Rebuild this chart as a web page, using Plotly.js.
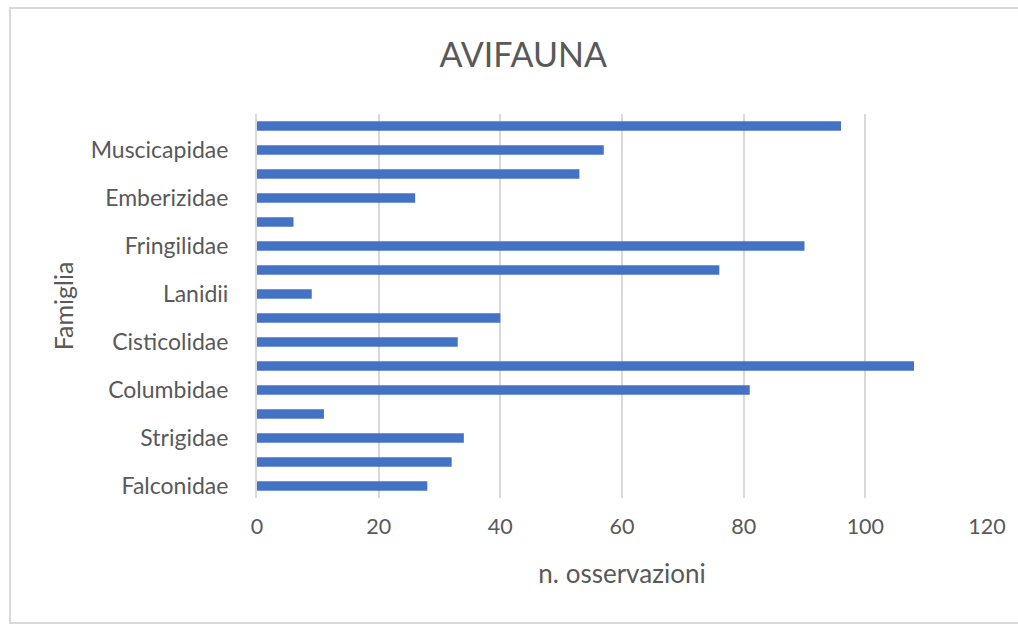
<!DOCTYPE html>
<html>
<head>
<meta charset="utf-8">
<script src="https://cdn.plot.ly/plotly-3.0.1.min.js"></script>
<style>
  html, body { margin: 0; padding: 0; background: #ffffff; }
  #chart { width: 1018px; height: 630px; }
</style>
</head>
<body>
<div id="chart"></div>
<script>
// Categories from bottom to top (as drawn by the chart)
const families = [
  "Falconidae", "Accipitridae", "Strigidae", "Upupidae", "Columbidae",
  "Corvidae", "Cisticolidae", "Sylviidae", "Lanidii", "Paridae",
  "Fringilidae", "Motacillidae", "Emberizidae", "Turdidae", "Muscicapidae",
  "Passeridae"
];
const observations = [28, 32, 34, 11, 81, 108, 33, 40, 9, 76, 90, 6, 26, 53, 57, 96];
// Only every other category is labelled on the axis
const labelledFamilies = [
  "Falconidae", "Strigidae", "Columbidae", "Cisticolidae",
  "Lanidii", "Fringilidae", "Emberizidae", "Muscicapidae"
];
const xTicks = [0, 20, 40, 60, 80, 100, 120];

const fontFamily = "Lato, 'Open Sans', 'Liberation Sans', sans-serif";
const textColor = "#595959";
const gridColor = "#d9d9d9";

const trace = {
  type: "bar",
  orientation: "h",
  y: families,
  x: observations,
  width: 0.4,
  marker: { color: "#4472C4" },
  hoverinfo: "x+y"
};

const layout = {
  width: 1018,
  height: 630,
  margin: { l: 257, r: 31, t: 114, b: 132 },
  paper_bgcolor: "#ffffff",
  plot_bgcolor: "#ffffff",
  showlegend: false,
  font: { family: fontFamily, color: textColor },
  title: {
    text: "AVIFAUNA",
    font: { family: fontFamily, size: 34, color: textColor },
    x: 0.514, xanchor: "center",
    y: 0.912, yanchor: "middle"
  },
  xaxis: {
    range: [0, 120],
    tickvals: xTicks,
    ticktext: xTicks.map(String),
    showgrid: true,
    gridcolor: gridColor,
    gridwidth: 2,
    zeroline: false,
    showline: false,
    ticks: "outside",
    ticklen: 9,
    tickcolor: "rgba(0,0,0,0)",
    tickfont: { family: fontFamily, size: 21.5, color: textColor },
    title: {
      text: "n. osservazioni",
      font: { family: fontFamily, size: 26, color: textColor },
      standoff: 27
    },
    fixedrange: true
  },
  yaxis: {
    type: "category",
    categoryorder: "array",
    categoryarray: families,
    range: [-0.5, families.length - 0.5],
    tickmode: "array",
    tickvals: labelledFamilies,
    ticktext: labelledFamilies,
    showgrid: false,
    zeroline: false,
    showline: true,
    linecolor: gridColor,
    linewidth: 2,
    ticks: "outside",
    ticklen: 22,
    tickcolor: "rgba(0,0,0,0)",
    tickfont: { family: fontFamily, size: 23, color: textColor },
    title: {
      text: "Famiglia",
      font: { family: fontFamily, size: 25, color: textColor },
      standoff: 10
    },
    fixedrange: true
  },
  shapes: [{
    type: "rect",
    xref: "paper", yref: "paper",
    x0: (10 - 257) / 730, x1: (1030 - 257) / 730,
    y0: (498 - 623) / 384, y1: (498 - 8) / 384,
    line: { color: gridColor, width: 2 },
    fillcolor: "rgba(0,0,0,0)",
    layer: "below"
  }]
};

Plotly.newPlot("chart", [trace], layout, { displayModeBar: false, staticPlot: true });
</script>
</body>
</html>
